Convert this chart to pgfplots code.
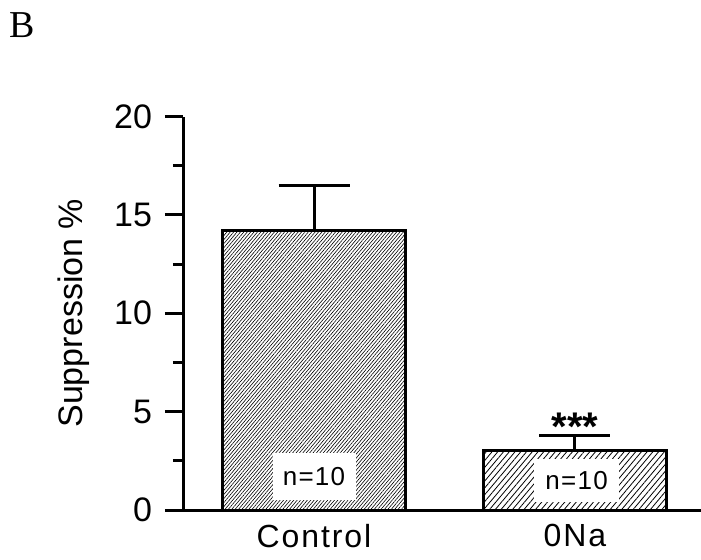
\documentclass[border=0pt]{standalone}
\usepackage{fontspec}
\setmainfont{Liberation Sans}
\newfontfamily\seriffont{Liberation Serif}
\usepackage{pgfplots}
\pgfplotsset{compat=1.18}
\usetikzlibrary{patterns.meta}

\begin{document}
\begin{tikzpicture}
\useasboundingbox (0,0) rectangle (350.5pt,279.5pt);
\node[font=\seriffont\fontsize{19}{19}\selectfont] at (11pt,267pt) {B};
\begin{axis}[
  at={(91.5pt,24.5pt)}, anchor=south west,
  scale only axis, width=259pt, height=196.75pt,
  xmin=-0.502, xmax=1.483, ymin=0, ymax=20,
  ybar, clip=false,
  axis lines*=left,
  axis line style={line width=1.5pt},
  ytick={0,5,10,15,20},
  minor ytick={2.5,7.5,12.5,17.5},
  xtick={0,1}, xticklabels={Control,0Na},
  ytick align=outside, xtick align=inside,
  major tick length=9pt, minor tick length=5pt,
  every tick/.style={line width=1.5pt, black},
  xtick style={draw=none},
  /pgf/number format/assume math mode=true,
  yticklabel style={font=\fontsize{17}{17}\selectfont, xshift=-3pt},
  xticklabel style={font=\fontsize{16}{16}\selectfont\addfontfeature{LetterSpace=6}, yshift=-3.7pt},
  ylabel={Suppression \%},
  ylabel style={at={(axis description cs:-0.2104,0.5)}, anchor=center,
    font=\fontsize{17}{17}\selectfont},
]
% Control
\addplot[bar shift=0pt, bar width=0.70, draw=black, line width=1.5pt,
  pattern={Lines[angle=50,distance=1.3pt,line width=0.3pt]},
  error bars/.cd, y dir=plus, y explicit,
  error bar style={line width=1.5pt},
  error mark options={rotate=90, mark size=17.75pt, line width=1.5pt}]
  coordinates {(0,14.2) +- (0,2.3)};
% 0Na
\addplot[bar shift=0pt, bar width=0.70, draw=black, line width=1.5pt,
  pattern={Lines[angle=50,distance=2.2pt,line width=0.4pt]},
  error bars/.cd, y dir=plus, y explicit,
  error bar style={line width=1.5pt},
  error mark options={rotate=90, mark size=17.75pt, line width=1.5pt}]
  coordinates {(1,3.0) +- (0,0.8)};

\node[fill=white, inner sep=0pt, minimum width=41.5pt, minimum height=23.5pt,
  font=\fontsize{13}{13}\selectfont\addfontfeature{LetterSpace=5}] at (axis cs:0,1.70) {n=10};
\node[fill=white, inner sep=0pt, minimum width=42.5pt, minimum height=21.5pt,
  font=\fontsize{13}{13}\selectfont\addfontfeature{LetterSpace=5}] at (axis cs:1.006,1.48) {n=10};
\node[anchor=base, inner sep=0pt, font=\bfseries\fontsize{20}{20}\selectfont]
  at (axis cs:1,3.51) {***};
\end{axis}
\end{tikzpicture}
\end{document}
